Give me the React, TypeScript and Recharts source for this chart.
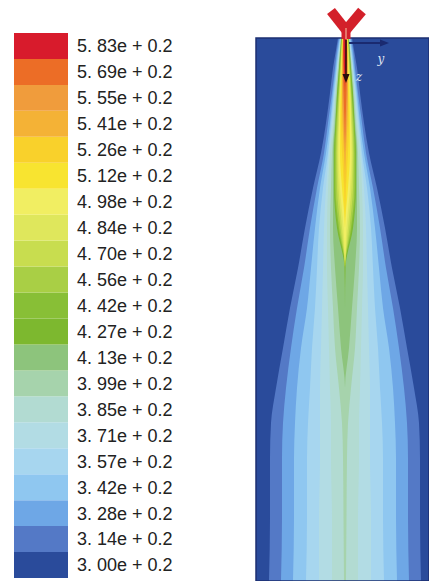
import React from 'react';
import {
  ComposedChart,
  Area,
  BarChart,
  Bar,
  XAxis,
  YAxis,
  CartesianGrid,
  ReferenceLine,
  ReferenceDot,
  ReferenceArea,
} from 'recharts';

// contour levels, lowest first
const LEVEL_LABELS = [
  '3. 00e + 0.2', '3. 14e + 0.2', '3. 28e + 0.2', '3. 42e + 0.2', '3. 57e + 0.2',
  '3. 71e + 0.2', '3. 85e + 0.2', '3. 99e + 0.2', '4. 13e + 0.2', '4. 27e + 0.2',
  '4. 42e + 0.2', '4. 56e + 0.2', '4. 70e + 0.2', '4. 84e + 0.2', '4. 98e + 0.2',
  '5. 12e + 0.2', '5. 26e + 0.2', '5. 41e + 0.2', '5. 55e + 0.2', '5. 69e + 0.2',
  '5. 83e + 0.2',
];

const LEVEL_COLORS = [
  '#2a4b9b', '#5479c6', '#6ea7e6', '#8fc7f0', '#a7d6ef',
  '#b2dce4', '#b2dbd2', '#a6d3ac', '#8dc47c', '#7db82f',
  '#88bf36', '#a9cf45', '#c8dd4f', '#dfe75c', '#f1ee62',
  '#f8e430', '#f9d12b', '#f4b236', '#f09c3c', '#ec6d26',
  '#d81b2c',
];

// depth below the nozzle exit
const DEPTH = [0, 12, 30, 55, 85, 115, 150, 190, 230, 270, 310, 350, 385, 420, 480, 543];

// half-width of the region above each level, per depth
const HW_314 = [7, 9, 12, 15, 19, 24, 32, 40, 47, 55, 62, 69, 74, 75, 75, 76];
const HW_328 = [6, 8, 10, 13, 17, 21, 28, 35, 41, 48, 54, 59, 62, 63, 63, 64];
const HW_342 = [5, 7, 9, 12, 15, 19, 25, 30, 34, 38, 44, 48, 50, 51, 51, 52];
const HW_357 = [5, 6, 8, 11, 14, 17, 22, 26, 28, 30, 33, 35, 37, 38, 38, 39];
const HW_371 = [4, 6, 8, 10, 13, 16, 19, 21, 22, 23, 24, 25, 25, 25, 26, 26];
const HW_385 = [4, 5, 7, 10, 12, 15, 17, 18, 18, 17, 16, 15, 14, 14, 13, 13];
const HW_399 = [4, 5, 7, 9, 11, 13, 14, 15, 14, 12, 10, 6, 3, 2, 1.5, 1];
const HW_413 = [4, 5, 6, 8, 10, 12, 12, 12, 10, 7, 4, 0, 0, 0, 0, 0];
const HW_427 = [3.5, 4.5, 6, 8, 9.5, 11, 11, 8, 0.5, 0, 0, 0, 0, 0, 0, 0];
const HW_442 = [3.5, 4, 5.5, 7, 9, 10.5, 10.5, 7, 0, 0, 0, 0, 0, 0, 0, 0];
const HW_456 = [3, 4, 5, 6.5, 8.5, 9.5, 9.5, 6, 0, 0, 0, 0, 0, 0, 0, 0];
const HW_470 = [3, 3.5, 4.5, 6, 7.5, 8.5, 8, 4.5, 0, 0, 0, 0, 0, 0, 0, 0];
const HW_484 = [2.5, 3.5, 4, 5.5, 6.5, 7.5, 6.5, 3, 0, 0, 0, 0, 0, 0, 0, 0];
const HW_498 = [2.5, 3, 4, 5, 6, 6.5, 5, 1.5, 0, 0, 0, 0, 0, 0, 0, 0];
const HW_512 = [2.5, 3, 3.5, 4.5, 5, 5, 3, 0, 0, 0, 0, 0, 0, 0, 0, 0];
const HW_526 = [2, 2.5, 3, 3.5, 4, 3, 1, 0, 0, 0, 0, 0, 0, 0, 0, 0];
const HW_541 = [2, 2.5, 3, 3, 2.5, 1, 0, 0, 0, 0, 0, 0, 0, 0, 0, 0];
const HW_555 = [2, 2, 2.5, 2.5, 1.5, 0, 0, 0, 0, 0, 0, 0, 0, 0, 0, 0];
const HW_569 = [1.5, 2, 2, 1.5, 0.5, 0, 0, 0, 0, 0, 0, 0, 0, 0, 0, 0];
const HW_583 = [1.5, 1.5, 1, 0, 0, 0, 0, 0, 0, 0, 0, 0, 0, 0, 0, 0];

const HALF_WIDTHS = [
  HW_314, HW_328, HW_342, HW_357, HW_371, HW_385, HW_399, HW_413, HW_427, HW_442,
  HW_456, HW_470, HW_484, HW_498, HW_512, HW_526, HW_541, HW_555, HW_569, HW_583,
];

const plumeRows = DEPTH.map((depth, i) => {
  const row: any = { depth };
  HALF_WIDTHS.forEach((hw, k) => {
    row[`l${k}`] = [-hw[i], hw[i]];
  });
  return row;
});

const legendRow: any = { name: 'scale' };
LEVEL_LABELS.forEach((_, i) => {
  legendRow[`b${i}`] = 1;
});
const legendTicks = LEVEL_LABELS.map((_, i) => i + 0.5);

const FONT = '"Liberation Sans", Arial, sans-serif';
const NOZZLE = '#d3202a';

const arrowDown = (p: any) => (
  <path d={`M${p.cx},${p.cy} L${p.cx - 3.5},${p.cy - 9} L${p.cx + 3.5},${p.cy - 9} Z`} fill="#2a0c0c" />
);
const arrowRight = (p: any) => (
  <path d={`M${p.cx},${p.cy} L${p.cx - 9},${p.cy - 3.5} L${p.cx - 9},${p.cy + 3.5} Z`} fill="#1a2a70" />
);
const axisText = (t: string) => (p: any) => (
  <text x={p.cx} y={p.cy} fill="#dfe4f2" fontSize={12} fontStyle="italic" fontFamily="DejaVu Serif, serif" textAnchor="middle" dominantBaseline="middle">
    {t}
  </text>
);

export default function App() {
  return (
    <div style={{ position: 'absolute', left: 0, top: 0, width: 429, height: 581, background: '#fff' }}>
      <div style={{ position: 'absolute', left: 0, top: 0 }}>
        <BarChart
          width={200}
          height={581}
          data={[legendRow]}
          margin={{ top: 33, right: 0, bottom: 3, left: 14 }}
          barCategoryGap={0}
        >
          <XAxis dataKey="name" hide />
          <YAxis
            orientation="right"
            type="number"
            domain={[0, 21]}
            ticks={legendTicks}
            interval={0}
            tickFormatter={(v: number) => LEVEL_LABELS[Math.floor(v)]}
            width={132}
            tickSize={0}
            tickMargin={9}
            axisLine={false}
            tick={{ fontSize: 18, fill: '#222', fontFamily: FONT }}
          />
          {LEVEL_COLORS.map((c, i) => (
            <Bar key={i} dataKey={`b${i}`} stackId="cb" fill={c} isAnimationActive={false} />
          ))}
        </BarChart>
      </div>
      <div style={{ position: 'absolute', left: 220, top: 0 }}>
        <ComposedChart
          layout="vertical"
          width={209}
          height={581}
          data={plumeRows}
          margin={{ top: 38, right: 0, bottom: 0, left: 36 }}
        >
          <CartesianGrid fill={LEVEL_COLORS[0]} fillOpacity={1} stroke="none" horizontal={false} vertical={false} />
          <XAxis type="number" domain={[-89, 84]} hide allowDataOverflow />
          <YAxis type="number" dataKey="depth" domain={[0, 543]} hide allowDataOverflow />
          {HALF_WIDTHS.map((_, k) => (
            <Area
              key={k}
              dataKey={`l${k}`}
              type="monotone"
              stroke="none"
              fill={LEVEL_COLORS[k + 1]}
              fillOpacity={1}
              dot={false}
              activeDot={false}
              isAnimationActive={false}
            />
          ))}
          <ReferenceArea x1={-89} x2={84} y1={0} y2={543} fill="none" stroke="#1c2f72" strokeWidth={1.5} ifOverflow="visible" />
          {/* nozzle */}
          <ReferenceLine segment={[{ x: -14, y: -27 }, { x: 1, y: -8 }]} stroke={NOZZLE} strokeWidth={10} ifOverflow="visible" />
          <ReferenceLine segment={[{ x: 17, y: -27 }, { x: 1, y: -8 }]} stroke={NOZZLE} strokeWidth={10} ifOverflow="visible" />
          <ReferenceLine segment={[{ x: 1, y: -12 }, { x: 1, y: 1 }]} stroke={NOZZLE} strokeWidth={9} ifOverflow="visible" />
          <ReferenceLine segment={[{ x: 1, y: -10 }, { x: 1, y: 1 }]} stroke="#f6c8a8" strokeWidth={1} ifOverflow="visible" />
          {/* axes triad */}
          <ReferenceLine segment={[{ x: 1, y: 2 }, { x: 1, y: 38 }]} stroke="#2a0c0c" strokeWidth={1.5} ifOverflow="visible" />
          <ReferenceDot x={1} y={45} shape={arrowDown} ifOverflow="visible" />
          <ReferenceLine segment={[{ x: 4, y: 5 }, { x: 36, y: 5 }]} stroke="#1a2a70" strokeWidth={2} ifOverflow="visible" />
          <ReferenceDot x={44} y={5} shape={arrowRight} ifOverflow="visible" />
          <ReferenceDot x={36} y={21} shape={axisText('y')} ifOverflow="visible" />
          <ReferenceDot x={14} y={39} shape={axisText('z')} ifOverflow="visible" />
        </ComposedChart>
      </div>
    </div>
  );
}
